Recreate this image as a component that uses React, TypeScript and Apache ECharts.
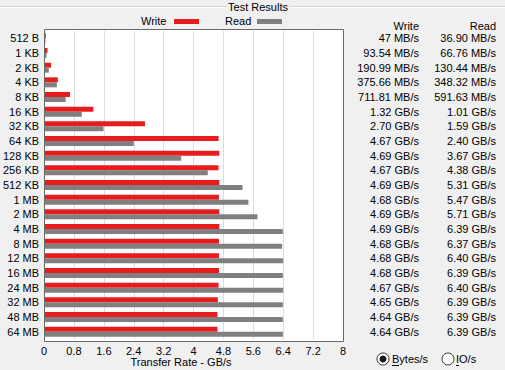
import React, { useEffect, useRef } from "react";
import * as echarts from "echarts";

const sizes = ["512 B", "1 KB", "2 KB", "4 KB", "8 KB", "16 KB", "32 KB", "64 KB", "128 KB", "256 KB", "512 KB", "1 MB", "2 MB", "4 MB", "8 MB", "12 MB", "16 MB", "24 MB", "32 MB", "48 MB", "64 MB"];
const writeText = ["47 MB/s", "93.54 MB/s", "190.99 MB/s", "375.66 MB/s", "711.81 MB/s", "1.32 GB/s", "2.70 GB/s", "4.67 GB/s", "4.69 GB/s", "4.67 GB/s", "4.69 GB/s", "4.68 GB/s", "4.69 GB/s", "4.69 GB/s", "4.68 GB/s", "4.68 GB/s", "4.68 GB/s", "4.67 GB/s", "4.65 GB/s", "4.64 GB/s", "4.64 GB/s"];
const readText = ["36.90 MB/s", "66.76 MB/s", "130.44 MB/s", "348.32 MB/s", "591.63 MB/s", "1.01 GB/s", "1.59 GB/s", "2.40 GB/s", "3.67 GB/s", "4.38 GB/s", "5.31 GB/s", "5.47 GB/s", "5.71 GB/s", "6.39 GB/s", "6.37 GB/s", "6.40 GB/s", "6.39 GB/s", "6.40 GB/s", "6.39 GB/s", "6.39 GB/s", "6.39 GB/s"];
const xTicks = { min: 0, max: 8, interval: 0.8 };

const toGB = (s: string) => {
  const [n, u] = s.split(" ");
  return u.startsWith("GB") ? parseFloat(n) : parseFloat(n) / 1024;
};
const writeValues = writeText.map(toGB);
const readValues = readText.map(toGB);

const FONT = "Liberation Sans";
const RED = "#e81c1c";
const GRAY = "#808080";

export default function App() {
  const ref = useRef<HTMLDivElement>(null);
  useEffect(() => {
    if (!ref.current) return;
    const chart = echarts.init(ref.current, null, { renderer: "svg" });
    const txt = (x: number, y: number, text: string, align: string = "left", extra: any = {}) => ({
      type: "text",
      x,
      y,
      style: { text, fill: "#000", font: `11px "${FONT}"`, textAlign: align, textVerticalAlign: "middle", ...extra },
      z: 50,
    });
    chart.setOption({
      animation: false,
      backgroundColor: "#f0f0f0",
      textStyle: { fontFamily: FONT },
      grid: { left: 44, right: 162, top: 31, bottom: 31, containLabel: false },
      xAxis: {
        type: "value",
        min: xTicks.min,
        max: xTicks.max,
        interval: xTicks.interval,
        axisLine: { show: false },
        axisTick: { show: false },
        splitLine: { show: true, lineStyle: { color: "#dcdcdc", width: 1 } },
        axisLabel: {
          color: "#000",
          fontSize: 11,
          fontFamily: FONT,
          margin: 6,
          formatter: (v: number) => String(+v.toFixed(1)),
        },
      },
      yAxis: [
        {
          type: "category",
          inverse: true,
          data: sizes,
          axisLine: { show: false },
          axisTick: { show: false },
          axisLabel: { color: "#000", fontSize: 11, fontFamily: FONT, margin: 5, interval: 0 },
        },
        {
          type: "category",
          inverse: true,
          position: "right",
          data: sizes,
          axisLine: { show: false },
          axisTick: { show: false },
          axisLabel: {
            margin: 6,
            interval: 0,
            formatter: (_v: string, i: number) => `{w|${writeText[i]}}{r|${readText[i]}}`,
            rich: {
              w: { width: 70, align: "right", fontSize: 11, fontFamily: FONT, color: "#000" },
              r: { width: 77, align: "right", fontSize: 11, fontFamily: FONT, color: "#000" },
            },
          },
        },
      ],
      series: [
        {
          name: "Write",
          type: "bar",
          yAxisIndex: 0,
          data: writeValues,
          barWidth: 5,
          barGap: "0%",
          itemStyle: { color: RED },
        },
        {
          name: "Read",
          type: "bar",
          yAxisIndex: 0,
          data: readValues,
          barWidth: 5,
          barGap: "0%",
          itemStyle: { color: GRAY },
        },
      ],
      graphic: [
        { type: "rect", shape: { x: 44, y: 29, width: 299, height: 312 }, style: { fill: "#fff" }, z: -10, silent: true },
        { type: "rect", shape: { x: 44.5, y: 29.5, width: 299, height: 312 }, style: { fill: "none", stroke: "#696969", lineWidth: 1 }, z: 40, silent: true },
        { type: "line", shape: { x1: 0, y1: 6.5, x2: 227, y2: 6.5 }, style: { stroke: "#d5d5d5", lineWidth: 1 }, z: 40 },
        { type: "line", shape: { x1: 0, y1: 7.5, x2: 227, y2: 7.5 }, style: { stroke: "#ffffff", lineWidth: 1 }, z: 40 },
        { type: "line", shape: { x1: 290, y1: 6.5, x2: 505, y2: 6.5 }, style: { stroke: "#d5d5d5", lineWidth: 1 }, z: 40 },
        { type: "line", shape: { x1: 290, y1: 7.5, x2: 505, y2: 7.5 }, style: { stroke: "#ffffff", lineWidth: 1 }, z: 40 },
        txt(258, 7, "Test Results", "center"),
        txt(141, 21, "Write"),
        { type: "rect", shape: { x: 174, y: 19, width: 25, height: 5 }, style: { fill: RED }, z: 40 },
        txt(225, 21, "Read"),
        { type: "rect", shape: { x: 257, y: 19, width: 25, height: 5 }, style: { fill: GRAY }, z: 40 },
        txt(419, 26, "Write", "right"),
        txt(496, 26, "Read", "right"),
        txt(181, 362, "Transfer Rate - GB/s", "center"),
        { type: "circle", shape: { cx: 383, cy: 359, r: 6 }, style: { fill: "#fff", stroke: "#333", lineWidth: 1 }, z: 40 },
        { type: "circle", shape: { cx: 383, cy: 359, r: 3.5 }, style: { fill: "#1a1a1a" }, z: 41 },
        txt(392, 359, "Bytes/s"),
        { type: "line", shape: { x1: 392, y1: 365.5, x2: 399, y2: 365.5 }, style: { stroke: "#000", lineWidth: 1 }, z: 40 },
        { type: "circle", shape: { cx: 448, cy: 359, r: 6 }, style: { fill: "#fff", stroke: "#333", lineWidth: 1 }, z: 40 },
        txt(456, 359, "IO/s"),
        { type: "line", shape: { x1: 456, y1: 365.5, x2: 459, y2: 365.5 }, style: { stroke: "#000", lineWidth: 1 }, z: 40 },
      ],
    });
    return () => chart.dispose();
  }, []);
  return <div ref={ref} style={{ position: "absolute", left: 0, top: 0, width: 505, height: 370 }} />;
}
